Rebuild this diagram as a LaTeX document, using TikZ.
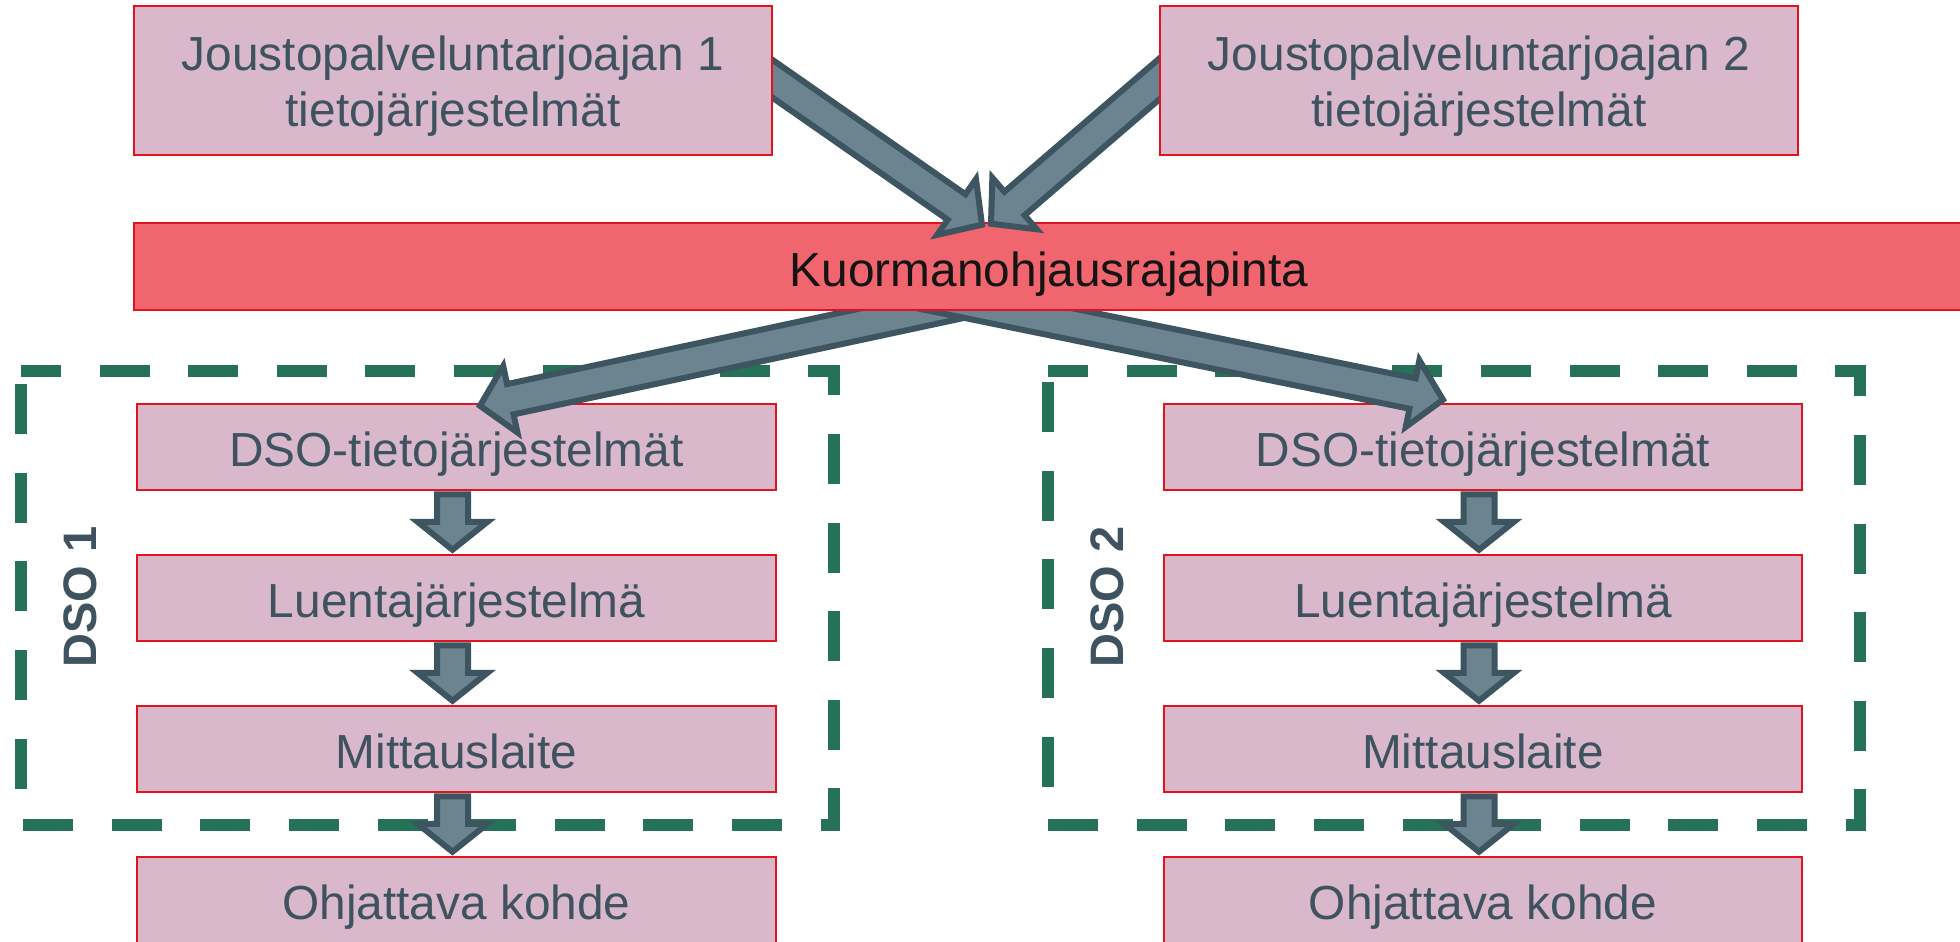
\documentclass[tikz,border=0pt]{standalone}
\usepackage{fontspec}
\setmainfont{Liberation Sans}
\usetikzlibrary{calc}
\pgfdeclarelayer{l1}\pgfdeclarelayer{l2}\pgfdeclarelayer{l3}\pgfdeclarelayer{l4}
\pgfsetlayers{l1,l2,l3,l4,main}
\definecolor{boxfill}{RGB}{217,184,203}
\definecolor{boxline}{RGB}{224,20,30}
\definecolor{barfill}{RGB}{241,101,110}
\definecolor{arrfill}{RGB}{108,131,144}
\definecolor{arrline}{RGB}{61,85,96}
\definecolor{dsogreen}{RGB}{38,114,88}
\definecolor{boxtext}{RGB}{62,82,95}
\definecolor{bartext}{RGB}{20,20,20}
\newcommand\blockarrow[5]{%
  \path[arrowshape] let \p1=(#1), \p2=(#2),
    \n1={atan2(\y2-\y1,\x2-\x1)},
    \n2={veclen(\x2-\x1,\y2-\y1)-#5}
  in ($(\p1)+(\n1+90:#3pt)$)
  -- ($(\p1)+(\n1:\n2)+(\n1+90:#3pt)$)
  -- ($(\p1)+(\n1:\n2)+(\n1+90:#4pt)$)
  -- (\p2)
  -- ($(\p1)+(\n1:\n2)+(\n1-90:#4pt)$)
  -- ($(\p1)+(\n1:\n2)+(\n1-90:#3pt)$)
  -- ($(\p1)+(\n1-90:#3pt)$) -- cycle;}
\newcommand\twolines[2]{\raisebox{0pt}[\dimexpr\height+14pt\relax][\depth]{\begin{tabular}{@{}c@{}}#1\\#2\end{tabular}}}
\begin{document}
\begin{tikzpicture}[x=1pt,y=-1pt,
  pbox/.style={draw=boxline, fill=boxfill, line width=2.5pt, inner sep=0pt,
    text=boxtext, font=\fontsize{47.8}{56}\selectfont,
    minimum width=639pt, minimum height=86pt, text height=39pt, text depth=0pt},
  topbox/.style={draw=boxline, fill=boxfill, line width=2.5pt, inner sep=0pt,
    text=boxtext, font=\fontsize{47.8}{56}\selectfont,
    minimum width=638pt, minimum height=149pt},
  barbox/.style={draw=boxline, fill=barfill, line width=2.5pt, inner sep=0pt,
    text=bartext, font=\fontsize{47.8}{56}\selectfont,
    minimum width=1830pt, minimum height=87pt, text height=40pt, text depth=0pt},
  dsoframe/.style={draw=dsogreen, line width=12pt, dash pattern=on 50pt off 38.6pt, dash phase=10pt},
  dsolabel/.style={text=boxtext, font=\bfseries\fontsize{47}{56}\selectfont, inner sep=0pt, rotate=90,
    text height=34pt, text depth=0pt},
  arrowshape/.style={fill=arrfill, draw=arrline, line width=6pt, line join=miter, miter limit=10}]
\useasboundingbox (0,0) rectangle (1960,942);

\begin{pgfonlayer}{l1}
  \draw[dsoframe] (21,371) -- (834,371) -- (834,825) -- (21,825) -- cycle;
  \draw[dsoframe] (1048,371) -- (1860,371) -- (1860,825) -- (1048,825) -- cycle;
  \node[dsolabel] (d1) at (79,597) {DSO 1};
  \node[dsolabel] (d2) at (1106,597) {DSO 2};
  \node[pbox] (a1) at (456.5,447) {DSO-tietojärjestelmät};
  \node[pbox] (a2) at (456.5,598) {Luentajärjestelmä};
  \node[pbox] (a3) at (456.5,749) {Mittauslaite};
  \node[pbox] (a4) at (456.5,900) {Ohjattava kohde};
  \node[pbox, minimum width=638pt] (b1) at (1483,447) {DSO-tietojärjestelmät};
  \node[pbox, minimum width=638pt] (b2) at (1483,598) {Luentajärjestelmä};
  \node[pbox, minimum width=638pt] (b3) at (1483,749) {Mittauslaite};
  \node[pbox, minimum width=638pt] (b4) at (1483,900) {Ohjattava kohde};
  \blockarrow{$(a1.south)+(-4,3)$}{$(a2.north)+(-4,-4)$}{15.5}{35}{28}
  \blockarrow{$(a2.south)+(-4,3)$}{$(a3.north)+(-4,-4)$}{15.5}{35}{28}
  \blockarrow{$(a3.south)+(-4,3)$}{$(a4.north)+(-4,-4)$}{15.5}{35}{28}
  \blockarrow{$(b1.south)+(-4,3)$}{$(b2.north)+(-4,-4)$}{15.5}{35}{28}
  \blockarrow{$(b2.south)+(-4,3)$}{$(b3.north)+(-4,-4)$}{15.5}{35}{28}
  \blockarrow{$(b3.south)+(-4,3)$}{$(b4.north)+(-4,-4)$}{15.5}{35}{28}
\end{pgfonlayer}

\begin{pgfonlayer}{l3}
  \node[barbox] (bar) at (1049,266.5) {Kuormanohjausrajapinta};
\end{pgfonlayer}

\node[topbox] (j1) at (453,80.5) {\twolines{Joustopalveluntarjoajan 1}{tietojärjestelmät}};
\node[topbox] (j2) at (1479,80.5) {\twolines{Joustopalveluntarjoajan 2}{tietojärjestelmät}};

\coordinate (kl) at ($(bar.south)+(-39,-19)$);
\coordinate (kr) at ($(bar.south)+(-133,-19)$);
\coordinate (tl) at ($(a1.north)+(23.5,3)$);
\coordinate (tr) at ($(b1.north)+(-40,-3)$);
\coordinate (s1) at ($(j1.east)+(-32,-23.5)$);
\coordinate (s2) at ($(j2.west)+(40,-35.5)$);
\coordinate (p1) at ($(bar.north)+(-67,3)$);
\coordinate (p2) at ($(bar.north)+(-58,2)$);

\begin{pgfonlayer}{l2}
  \blockarrow{kl}{tl}{15.5}{34}{31}
  \blockarrow{kr}{tr}{15.5}{34}{31}
\end{pgfonlayer}

\begin{pgfonlayer}{l4}
  \blockarrow{s1}{p1}{15.5}{34}{31}
  \blockarrow{s2}{p2}{15.5}{34}{31}
\end{pgfonlayer}
\end{tikzpicture}
\end{document}
